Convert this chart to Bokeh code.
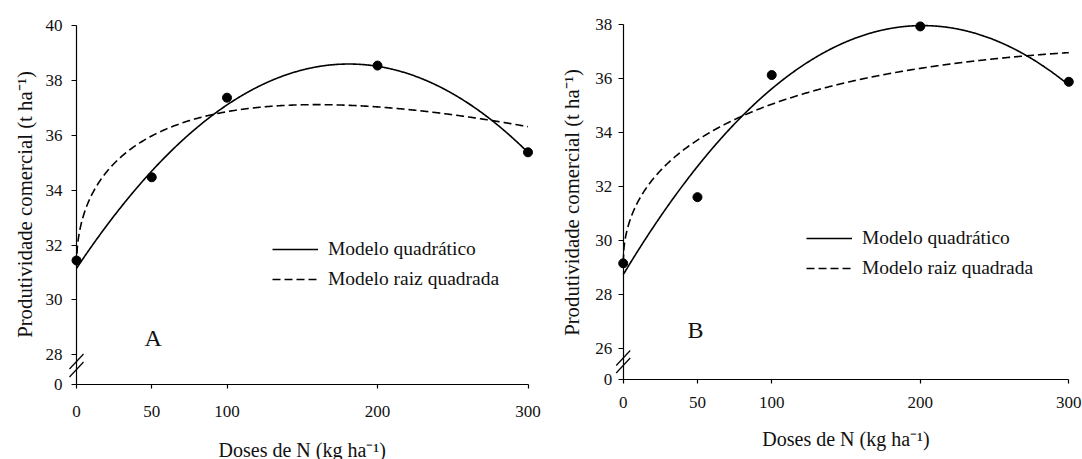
import numpy as np
from bokeh.plotting import figure
from bokeh.layouts import row
from bokeh.models import FixedTicker, Range1d, Legend, LegendItem, Label
from bokeh.core.properties import value
from bokeh.embed import file_html
from bokeh.resources import INLINE

# ---------------- data ----------------
doses = [0, 50, 100, 200, 300]
prod_A = [31.44, 34.47, 37.37, 38.54, 35.38]
prod_B = [29.17, 31.62, 36.14, 37.94, 35.89]

# fitted models: quadratic y = a + b*x + c*x^2 ; square root y = a + b*sqrt(x) + c*x
quad_A = [31.15, 0.0823, -0.0002274]
sqrt_A = [31.25, 0.928, -0.0367]
quad_B = [28.75, 0.0915, -0.000227]
sqrt_B = [29.20, 0.7737, -0.01877]

x_ticks = [0, 50, 100, 200, 300]
y_ticks_A = [28, 30, 32, 34, 36, 38, 40]
y_ticks_B = [26, 28, 30, 32, 34, 36, 38]
break_A = 26.92   # where the "0" label sits below the axis break
break_B = 24.87
x_title = "Doses de N (kg ha⁻¹)"
y_title = "Produtividade comercial (t ha⁻¹)"
legend_labels = ["Modelo quadrático", "Modelo raiz quadrada"]
panel_letters = ["A", "B"]
letter_pos = [(51, 28.6), (48.7, 26.7)]

FONT = "Liberation Serif"
INK = "#111111"


def make_panel(prod, quad, sq, yticks, brk, letter, lpos, lay):
    fig_x, width, height = lay["fig_x"], lay["width"], lay["height"]
    # pixel -> data mapping (the frame covers the whole figure)
    sx = (lay["x300"] - lay["axis_x"]) / 300.0
    x_start = (fig_x - lay["axis_x"]) / sx
    x_end = (fig_x + width - lay["axis_x"]) / sx
    ytop = yticks[-1]
    sy = (lay["axis_y"] - lay["top_px"]) / (ytop - brk)
    y_start = brk - (height - lay["axis_y"]) / sy
    y_end = ytop + lay["top_px"] / sy

    p = figure(width=width, height=height,
               x_range=Range1d(x_start, x_end), y_range=Range1d(y_start, y_end),
               output_backend="svg", toolbar_location=None,
               min_border_left=0, min_border_right=0,
               min_border_top=0, min_border_bottom=0)
    p.outline_line_color = None
    p.grid.visible = False

    xs = np.linspace(0, 300, 601)
    yq = quad[0] + quad[1] * xs + quad[2] * xs ** 2
    ys = sq[0] + sq[1] * np.sqrt(xs) + sq[2] * xs
    rq = p.line(xs, yq, line_color="black", line_width=1.6)
    rs = p.line(xs, ys, line_color="black", line_width=1.6, line_dash="8 4")
    p.scatter(doses, prod, size=9, color="black")

    # axis break marks
    for off in lay["break_offsets"]:
        yc = brk + off / sy
        p.segment(x0=[-7 / sx], y0=[yc - 7.5 / sy], x1=[7 / sx], y1=[yc + 7.5 / sy],
                  line_color="black", line_width=1.2)

    p.text(x=[lpos[0]], y=[lpos[1]], text=[letter], text_font=value(FONT),
           text_font_size="24px", text_align="center", text_baseline="middle",
           text_color=INK)

    # ---- x axis (drawn at the break value) ----
    xa = p.xaxis[0]
    xa.fixed_location = brk
    xa.ticker = FixedTicker(ticks=x_ticks)
    xa.bounds = (0, 300)
    xa.minor_tick_line_color = None
    xa.major_tick_in = 0
    xa.major_tick_out = 4
    xa.axis_line_width = 1.2
    xa.major_tick_line_width = 1.2
    xa.major_label_text_font = FONT
    xa.major_label_text_font_size = "17px"
    xa.major_label_text_color = INK
    xa.major_label_standoff = lay["xlab_standoff"]

    # ---- y axis (drawn at x = 0) ----
    ya = p.yaxis[0]
    ya.fixed_location = 0
    ya.ticker = FixedTicker(ticks=[brk] + yticks)
    ya.major_label_overrides = {brk: "0"}
    ya.bounds = (brk, ytop)
    ya.minor_tick_line_color = None
    ya.major_tick_in = 0
    ya.major_tick_out = 5
    ya.axis_line_width = 1.2
    ya.major_tick_line_width = 1.2
    ya.major_label_text_font = FONT
    ya.major_label_text_font_size = "17px"
    ya.major_label_text_color = INK
    ya.major_label_standoff = lay["ylab_standoff"]

    # ---- axis titles ----
    p.add_layout(Label(x=150, y=lay["xtitle_base"], x_units="data", y_units="screen",
                       text=x_title, text_font=FONT, text_font_size="20px",
                       text_color=INK, text_align="center",
                       text_baseline="alphabetic"))
    p.add_layout(Label(x=lay["ytitle_x"] - fig_x, y=height - lay["ytitle_y"],
                       x_units="screen", y_units="screen", angle=np.pi / 2,
                       text=y_title, text_font=FONT, text_font_size="20.8px",
                       text_color=INK, text_align="center",
                       text_baseline="middle"))

    legend = Legend(items=[LegendItem(label=legend_labels[0], renderers=[rq]),
                           LegendItem(label=legend_labels[1], renderers=[rs])],
                    location=(lay["legend_x"] - fig_x, height - lay["legend_bottom"]),
                    glyph_width=46, glyph_height=30,
                    label_height=30, spacing=0, padding=0, margin=0,
                    label_standoff=10, border_line_color=None,
                    background_fill_alpha=0, label_text_font=FONT,
                    label_text_font_size="19.5px", label_text_color=INK)
    p.add_layout(legend)
    return p


lay_A = dict(fig_x=0, width=553, height=459, axis_x=76, x300=527.5,
             axis_y=384, top_px=25, break_offsets=[15, 23],
             xlab_standoff=17, ylab_standoff=9, xtitle_base=10,
             ytitle_x=24, ytitle_y=204, legend_x=272, legend_bottom=294)
lay_B = dict(fig_x=553, width=529, height=459, axis_x=622.7, x300=1068.3,
             axis_y=379, top_px=24.3, break_offsets=[14, 21.5],
             xlab_standoff=13, ylab_standoff=6, xtitle_base=21,
             ytitle_x=571, ytitle_y=202, legend_x=806, legend_bottom=282.7)

pA = make_panel(prod_A, quad_A, sqrt_A, y_ticks_A, break_A, panel_letters[0], letter_pos[0], lay_A)
pB = make_panel(prod_B, quad_B, sqrt_B, y_ticks_B, break_B, panel_letters[1], letter_pos[1], lay_B)

layout = row(pA, pB)
open("out.html", "w").write(file_html(layout, INLINE))
